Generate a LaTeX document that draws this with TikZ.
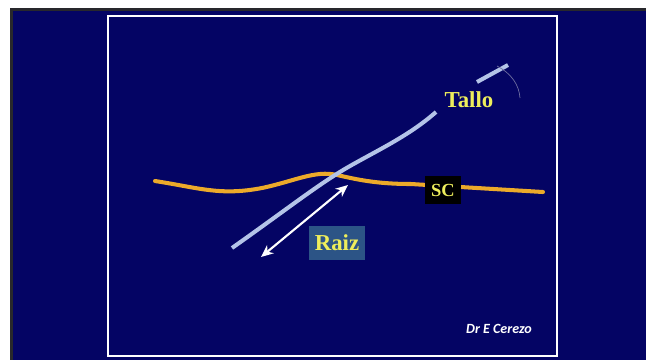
\documentclass[tikz,border=0pt]{standalone}
\usepackage{fontspec}
\setmainfont{Liberation Serif}
\newfontfamily\signfont{Carlito}
\usetikzlibrary{arrows.meta,calc}
\definecolor{slidenavy}{RGB}{4,4,100}
\definecolor{slideedge}{RGB}{40,40,44}
\definecolor{stemblue}{RGB}{180,196,232}
\definecolor{skinorange}{RGB}{236,170,42}
\definecolor{labelyellow}{RGB}{238,238,92}
\definecolor{rootbox}{RGB}{44,84,134}
\definecolor{faintarc}{RGB}{110,110,160}

\begin{document}
\begin{tikzpicture}[x=0.02cm,y=-0.02cm,
    lbl/.style={font=\bfseries\fontsize{13}{13}\selectfont,text=labelyellow,inner sep=0pt},
    curve/.style={line width=2.3pt}]
  \useasboundingbox (0,0) rectangle (646,360);
  % slide background
  \fill[white] (0,0) rectangle (646,360);
  \fill[slideedge] (10,8) rectangle (646,360);
  \fill[slidenavy] (13,11) rectangle (646,360);
  \draw[white,line width=1.6pt] (108,16) rectangle (557,356);
  % skin line
  \draw[skinorange,curve,line cap=round] (155,181) .. controls (200,188) and (220,196) .. (262,188)
    .. controls (295,181) and (315,170) .. (337,175) .. controls (355,179) and (375,184) .. (411,184) -- (543,192);
  \node[font=\bfseries\fontsize{10.5}{10.5}\selectfont,text=labelyellow,fill=black,
    minimum width=21pt,minimum height=16pt,inner sep=0pt] (sc) at (443,190) {SC};
  % stem
  \draw[stemblue,curve] (232,248) .. controls (290,207) and (320,183) .. (350,166)
    .. controls (380,149) and (410,135) .. (436,112);
  \draw[stemblue,curve] (477,82) -- (508,65);
  \draw[faintarc,line width=0.4pt] (497,66) .. controls (512,74) and (519,85) .. (520,98);
  \node[lbl] (tallo) at (469,100) {Tallo};
  % root length
  \coordinate (rootlow) at (261,257);
  \coordinate (roottop) at (348,185);
  \draw[{Stealth[length=7pt,width=6pt]}-{Stealth[length=7pt,width=6pt]},white,line width=1.2pt] (rootlow) -- (roottop);
  \node[lbl,fill=rootbox,minimum width=32pt,minimum height=19pt] (raiz) at (337,243) {Raiz};
  \node[font=\signfont\bfseries\itshape\fontsize{8}{8}\selectfont,text=white] (autor) at (499,329) {Dr E Cerezo};
\end{tikzpicture}
\end{document}
